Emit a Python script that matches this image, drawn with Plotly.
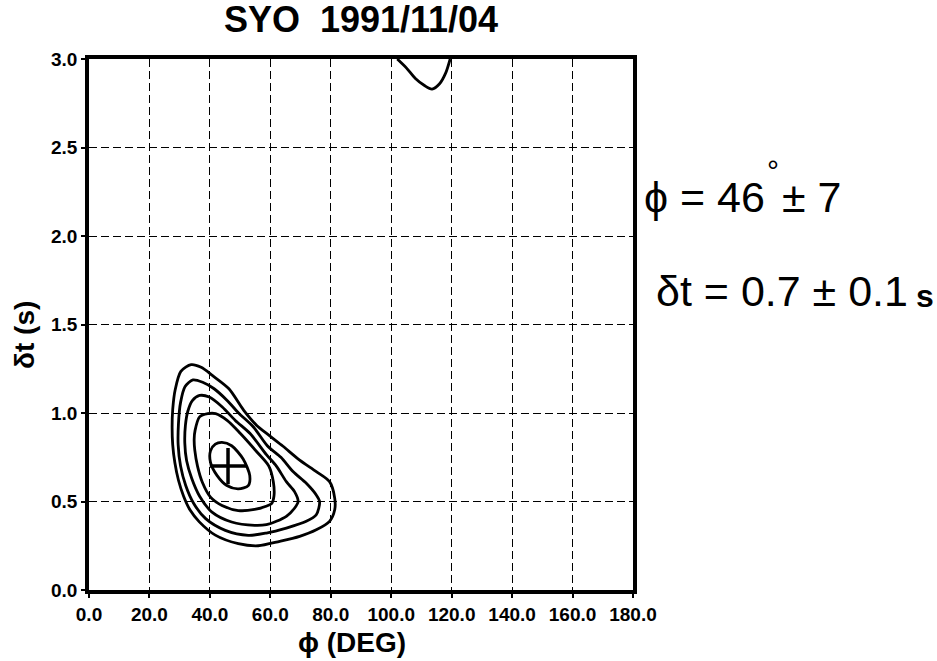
import plotly.graph_objects as go

# ---- data ----
x_ticks = [0, 20, 40, 60, 80, 100, 120, 140, 160, 180]
x_tick_labels = ["0.0", "20.0", "40.0", "60.0", "80.0", "100.0", "120.0", "140.0", "160.0", "180.0"]
y_ticks = [0.0, 0.5, 1.0, 1.5, 2.0, 2.5, 3.0]
y_tick_labels = ["0.0", "0.5", "1.0", "1.5", "2.0", "2.5", "3.0"]

c1_phi = [33.8, 37.1, 40.9, 46.3, 51.2, 55.5, 59.5, 64.2, 69.7, 75.2, 79.6, 81.3, 81.3, 79.6, 75.2, 69.7, 63.1, 56.0, 49.4, 41.8, 36.5, 33.5, 31.3, 29.6, 28.4, 27.7, 27.5, 27.7, 28.5, 30.4, 33.8]
c1_dt = [1.273, 1.258, 1.211, 1.137, 1.015, 0.93, 0.875, 0.812, 0.734, 0.669, 0.612, 0.519, 0.453, 0.388, 0.34, 0.303, 0.275, 0.25, 0.262, 0.31, 0.385, 0.45, 0.53, 0.62, 0.72, 0.82, 0.92, 1.02, 1.13, 1.235, 1.273]

c2_phi = [34.4, 37.6, 41.4, 45.7, 49.5, 54.4, 59.0, 63.5, 67.5, 71.9, 75.2, 76.3, 75.2, 71.9, 65.3, 58.7, 52.7, 45.1, 38.6, 34.6, 32.0, 30.3, 29.5, 29.6, 30.3, 31.8, 34.4]
c2_dt = [1.187, 1.174, 1.137, 1.071, 1.0, 0.921, 0.815, 0.75, 0.669, 0.603, 0.537, 0.50, 0.425, 0.388, 0.35, 0.322, 0.309, 0.337, 0.403, 0.49, 0.59, 0.70, 0.82, 0.94, 1.06, 1.15, 1.187]

c3_phi = [36.6, 39.8, 44.1, 48.4, 53.3, 58.7, 62.0, 65.3, 68.0, 69.2, 68.0, 65.3, 62.0, 58.7, 54.8, 47.2, 40.7, 36.6, 34.0, 32.3, 31.7, 31.9, 32.7, 34.2, 36.6]
c3_dt = [1.099, 1.09, 1.034, 0.958, 0.884, 0.765, 0.70, 0.612, 0.556, 0.50, 0.462, 0.416, 0.388, 0.369, 0.365, 0.384, 0.44, 0.53, 0.63, 0.73, 0.83, 0.93, 1.01, 1.07, 1.099]

c4_phi = [39.3, 41.9, 45.7, 50.1, 55.5, 59.5, 61.0, 61.2, 60.5, 58.6, 54.8, 49.4, 44.0, 40.2, 37.5, 35.9, 35.0, 34.8, 35.1, 36.6, 39.3]
c4_dt = [0.996, 0.996, 0.958, 0.884, 0.781, 0.70, 0.61, 0.53, 0.49, 0.473, 0.455, 0.449, 0.478, 0.525, 0.609, 0.70, 0.79, 0.852, 0.902, 0.978, 0.996]

c5_phi = [44.0, 47.2, 51.0, 53.2, 52.7, 49.4, 45.6, 42.4, 40.2, 40.2, 41.8, 44.0]
c5_dt = [0.834, 0.815, 0.74, 0.646, 0.59, 0.571, 0.59, 0.646, 0.721, 0.786, 0.824, 0.834]

top_phi = [102.0, 105.0, 108.0, 111.0, 113.5, 116.0, 118.0, 119.5]
top_dt = [3.0, 2.95, 2.89, 2.85, 2.83, 2.86, 2.92, 3.0]

best_phi = [46]
best_dt = [0.7]

title_text = "SYO  1991/11/04"
x_title = "ϕ (DEG)"
y_title = "δt (s)"
phi_left = "ϕ = 46"
phi_deg = "°"
phi_right = "± 7"
dt_text = "δt = 0.7 ± 0.1"
dt_unit = "s"

FONT = "Liberation Sans, Arial, sans-serif"

fig = go.Figure()
for px_, py_ in [(c1_phi, c1_dt), (c2_phi, c2_dt), (c3_phi, c3_dt), (c4_phi, c4_dt), (c5_phi, c5_dt), (top_phi, top_dt)]:
    fig.add_trace(go.Scatter(x=px_, y=py_, mode="lines",
                             line=dict(color="black", width=2.8, shape="spline", smoothing=0.8),
                             hoverinfo="skip", showlegend=False, cliponaxis=True))

fig.add_trace(go.Scatter(x=best_phi, y=best_dt, mode="markers",
                         marker=dict(symbol="cross-thin", size=26, line=dict(color="black", width=3.5)),
                         showlegend=False))

axis_common = dict(showline=True, linecolor="black", linewidth=3.5, mirror=True,
                   ticks="outside", ticklen=4, tickwidth=2, tickcolor="black",
                   showgrid=True, gridcolor="black", gridwidth=1.3, griddash="8px,4px",
                   zeroline=False,
                   tickfont=dict(family=FONT, size=19, color="black", weight="bold"))

fig.update_xaxes(range=[0, 180], tickvals=x_ticks, ticktext=x_tick_labels, ticklabelstandoff=0, **axis_common)
fig.update_yaxes(range=[0, 3.0], tickvals=y_ticks, ticktext=y_tick_labels, ticklabelstandoff=0, **axis_common)


def py2paper(py):
    return (590 - py) / 531


def px2paper(px):
    return (px - 89) / 544


ann = []
ann.append(dict(text=x_title, xref="paper", yref="paper", x=px2paper(352), y=py2paper(642),
                xanchor="center", yanchor="middle",
                showarrow=False, font=dict(family=FONT, size=28, color="black", weight="bold")))
ann.append(dict(text=y_title, xref="paper", yref="paper", x=px2paper(24), y=py2paper(335),
                xanchor="center", yanchor="middle",
                textangle=-90, showarrow=False, font=dict(family=FONT, size=28, color="black", weight="bold")))
ann.append(dict(text=phi_left, xref="paper", yref="paper", x=px2paper(766.5), y=py2paper(197),
                xanchor="right", yanchor="middle", showarrow=False, font=dict(family=FONT, size=43, color="black")))
ann.append(dict(text=phi_deg, xref="paper", yref="paper", x=px2paper(773), y=py2paper(170),
                xanchor="center", yanchor="middle", showarrow=False, font=dict(family=FONT, size=30, color="black")))
ann.append(dict(text=phi_right, xref="paper", yref="paper", x=px2paper(779.5), y=py2paper(197),
                xanchor="left", yanchor="middle", showarrow=False, font=dict(family=FONT, size=43, color="black")))
ann.append(dict(text=dt_text, xref="paper", yref="paper", x=px2paper(654), y=py2paper(291),
                xanchor="left", yanchor="middle", showarrow=False, font=dict(family=FONT, size=43, color="black")))
ann.append(dict(text=dt_unit, xref="paper", yref="paper", x=px2paper(925), y=py2paper(296),
                xanchor="center", yanchor="middle", showarrow=False, font=dict(family=FONT, size=32, color="black", weight="bold")))

fig.update_layout(
    width=937, height=661,
    margin=dict(l=89, r=304, t=59, b=71),
    paper_bgcolor="white", plot_bgcolor="white",
    title=dict(text=title_text, x=361 / 937, xanchor="center", y=1 - 19 / 661, yanchor="middle",
               font=dict(family=FONT, size=36, color="black", weight="bold")),
    annotations=ann,
    showlegend=False,
)

fig.write_html("out.html")
